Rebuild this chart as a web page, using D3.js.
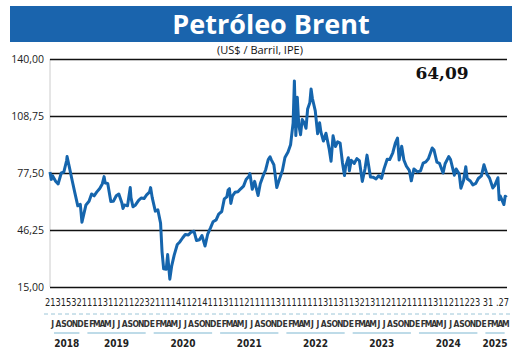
<!DOCTYPE html>
<html><head><meta charset="utf-8">
<script src="https://cdn.jsdelivr.net/npm/d3@7"></script>
<style>body{margin:0;background:#fff}svg{display:block}</style>
</head><body><svg id="c" width="520" height="360"></svg>
<script>
const title = "Petróleo Brent";
const subtitle = "(US$ / Barril, IPE)";
const lastValueLabel = "64,09";
const yTicks = [15, 46.25, 77.5, 108.75, 140];
const yTickLabels = ["15,00", "46,25", "77,50", "108,75", "140,00"];
const monthLetters = ["E","F","M","A","M","J","J","A","S","O","N","D"];
const years = ["2018","2019","2020","2021","2022","2023","2024","2025"];
const digitRow = "21315321111311211223211114112141113111211111311111111311311321311211211111311211223 31 .27";
const dates = [
"2018-07-01","2018-07-08","2018-07-15","2018-08-01","2018-08-15","2018-09-01","2018-09-15","2018-10-01","2018-10-03","2018-10-15","2018-11-01","2018-11-15","2018-12-01","2018-12-15","2018-12-24",
"2019-01-01","2019-01-15","2019-02-01","2019-02-15","2019-03-01","2019-03-15","2019-04-01","2019-04-15","2019-04-25","2019-05-01","2019-05-15","2019-06-01","2019-06-15","2019-07-01","2019-07-15","2019-08-01","2019-08-07","2019-08-15","2019-09-01","2019-09-16","2019-09-20","2019-10-01","2019-10-15","2019-11-01","2019-11-15","2019-12-01","2019-12-15","2019-12-31",
"2020-01-06","2020-01-15","2020-02-01","2020-02-15","2020-03-01","2020-03-09","2020-03-18","2020-04-01","2020-04-09","2020-04-21","2020-05-01","2020-05-15","2020-06-01","2020-06-15","2020-07-01","2020-07-15","2020-08-01","2020-08-15","2020-09-01","2020-09-15","2020-10-01","2020-10-15","2020-11-01","2020-11-15","2020-12-01","2020-12-15",
"2021-01-01","2021-01-15","2021-02-01","2021-02-15","2021-03-01","2021-03-08","2021-03-15","2021-03-23","2021-04-01","2021-04-15","2021-05-01","2021-05-15","2021-06-01","2021-06-15","2021-07-01","2021-07-06","2021-07-19","2021-08-01","2021-08-20","2021-09-01","2021-09-15","2021-10-01","2021-10-15","2021-10-25","2021-11-01","2021-11-15","2021-12-01","2021-12-15",
"2022-01-01","2022-01-15","2022-02-01","2022-02-15","2022-03-01","2022-03-08","2022-03-16","2022-03-24","2022-04-01","2022-04-11","2022-04-20","2022-05-01","2022-05-11","2022-05-20","2022-06-01","2022-06-08","2022-06-15","2022-07-01","2022-07-14","2022-07-25","2022-08-01","2022-08-15","2022-08-29","2022-09-15","2022-09-26","2022-10-07","2022-10-20","2022-11-01","2022-11-15","2022-11-28","2022-12-09","2022-12-15","2022-12-30",
"2023-01-05","2023-01-15","2023-02-01","2023-02-15","2023-03-01","2023-03-17","2023-04-01","2023-04-12","2023-05-01","2023-05-15","2023-06-01","2023-06-15","2023-07-01","2023-07-15","2023-08-01","2023-08-15","2023-09-01","2023-09-15","2023-09-27","2023-10-06","2023-10-20","2023-11-01","2023-11-15","2023-12-01","2023-12-12","2023-12-26",
"2024-01-15","2024-02-01","2024-02-15","2024-03-01","2024-03-15","2024-04-05","2024-04-15","2024-05-01","2024-05-15","2024-06-04","2024-06-15","2024-07-05","2024-07-15","2024-08-05","2024-08-15","2024-09-01","2024-09-10","2024-09-25","2024-10-07","2024-10-15","2024-11-01","2024-11-15","2024-12-01","2024-12-15",
"2025-01-01","2025-01-15","2025-02-01","2025-02-15","2025-03-05","2025-03-15","2025-04-02","2025-04-09","2025-04-15","2025-05-01","2025-05-05","2025-05-12","2025-05-20"];
const prices = [
78,74,76,73,71.5,77.5,78,84.5,86.5,81,73,66.6,59.5,60.3,50.5,
54,60,62,66,65,67,69,71.5,75.5,72,71.8,61.9,62,65,66,61,58,60,59.5,69.5,64,59,60,62.5,63.8,63.5,65.5,67,
69.5,64,56.6,57.3,50,34.4,25,24.7,32.8,19.3,26.4,32.5,38.3,39.7,42,43.8,43.5,45,45.6,40.5,40.9,43.2,37.5,43.8,47.4,50.8,
51.8,55,56.4,63.3,64.4,68.2,68.9,60.8,64.9,66.9,67.2,68.7,70.3,73.9,75.8,77.2,68.6,72.9,65.2,71.6,75.5,79.3,84.9,86.4,84.7,82,69.5,73.9,
78.9,86,89,93,105,128,98,119,104,98.5,106.8,105,102,112.6,116,123.6,118.5,111.6,99,105,100,95,99.3,91,84,97.9,92,94.6,93.9,83,76.1,81,85.9,
78.7,84.5,82.8,85.4,84.3,72.9,79.8,87.3,75.3,75.2,74.3,76,74.6,79.9,85,84.9,88.6,93.9,96.6,84.6,92.2,84.6,81.2,78.9,73.2,79.7,
78.1,78.7,82.9,83.6,85.3,91.2,90.1,83.4,82.8,77.5,82.6,86.5,84.9,76.3,79.7,76.9,69.2,73.5,80.9,74.3,73.1,71,71.8,74.5,
75.9,82,76.7,74.7,69.3,70.6,74.9,62.8,64.9,61.1,60.2,64.8,64.1];

const parse = d3.timeParse("%Y-%m-%d");
const data = dates.map((d,i)=>({date:parse(d), v:prices[i]}));
const svg = d3.select("#c");
const L = 50, R = 507, T = 59, B = 287;
const x = d3.scaleTime().domain([parse("2018-07-01"), parse("2025-05-22")]).range([L, R]);
const y = d3.scaleLinear().domain([15,140]).range([B, T]);

// banner
svg.append("rect").attr("x",10).attr("y",6).attr("width",502).attr("height",36).attr("fill","#1a64ad");
svg.append("text").attr("x",271).attr("y",34).attr("text-anchor","middle")
  .attr("font-family","Open Sans, sans-serif").attr("font-weight","bold").attr("font-size",27)
  .attr("fill","#fff").text(title);
svg.append("text").attr("x",260).attr("y",54).attr("text-anchor","middle")
  .attr("font-family","Open Sans, sans-serif").attr("font-size",11).attr("fill","#111").text(subtitle);

// left axis gray line
svg.append("line").attr("x1",L).attr("x2",L).attr("y1",T).attr("y2",B).attr("stroke","#ccc").attr("stroke-width",1);

// grid
const yAxis = d3.axisLeft(y).tickValues(yTicks).tickSize(-(R-L)).tickFormat((d,i)=>yTickLabels[i]);
const ga = svg.append("g").attr("transform",`translate(${L},0)`).call(yAxis);
ga.select(".domain").remove();
ga.selectAll(".tick line").attr("stroke","#111").attr("stroke-width",1.3);
ga.selectAll(".tick text").attr("x",-6).attr("font-family","Open Sans, sans-serif").attr("font-size",10.5).attr("fill","#222");

// line
const line = d3.line().x(d=>x(d.date)).y(d=>y(d.v)).curve(d3.curveLinear);
svg.append("path").datum(data).attr("d",line).attr("fill","none").attr("stroke","#1565ad")
  .attr("stroke-width",3).attr("stroke-linejoin","round");

// last value
svg.append("text").attr("x",442).attr("y",79).attr("text-anchor","middle")
  .attr("font-family","DejaVu Serif, serif").attr("font-weight","bold").attr("font-size",17).attr("fill","#111").text(lastValueLabel);

// digit row
svg.append("text").attr("transform","translate(45,306) scale(1,1.25)").attr("x",0).attr("y",0)
  .attr("textLength",464).attr("lengthAdjust","spacingAndGlyphs")
  .attr("font-family","DejaVu Sans Condensed, sans-serif").attr("font-size",8.5).attr("fill","#222").text(digitRow);

// dashed line
svg.append("line").attr("x1",44).attr("x2",512).attr("y1",314).attr("y2",314)
  .attr("stroke","#9cc6d8").attr("stroke-width",1).attr("stroke-dasharray","4,3");

// months
const months = d3.timeMonth.range(parse("2018-07-01"), parse("2025-06-01"));
svg.append("g").selectAll("text").data(months).join("text")
  .attr("x",d=>x(d3.timeDay.offset(d,15))).attr("y",327).attr("text-anchor","middle")
  .attr("font-family","DejaVu Sans Condensed, sans-serif").attr("font-weight","bold").attr("font-size",8.5)
  .attr("fill","#333").text(d=>monthLetters[d.getMonth()]);

// year underlines and labels
const yearStarts = years.map(yy => yy==="2018" ? parse("2018-07-01") : parse(yy+"-01-01"));
const yearEnds = years.map(yy => yy==="2025" ? parse("2025-05-31") : parse((+yy+1)+"-01-01"));
svg.append("g").selectAll("line").data(years).join("line")
  .attr("x1",(d,i)=>x(yearStarts[i])+4).attr("x2",(d,i)=>Math.min(x(yearEnds[i]),512)-4)
  .attr("y1",333).attr("y2",333).attr("stroke","#a9cfe0").attr("stroke-width",1.5);
svg.append("g").selectAll("text").data(years).join("text")
  .attr("x",(d,i)=>(x(yearStarts[i])+Math.min(x(yearEnds[i]),514))/2).attr("y",347).attr("text-anchor","middle")
  .attr("font-family","DejaVu Sans Condensed, sans-serif").attr("font-weight","bold").attr("font-size",10)
  .attr("fill","#222").text(d=>d);
</script></body></html>
